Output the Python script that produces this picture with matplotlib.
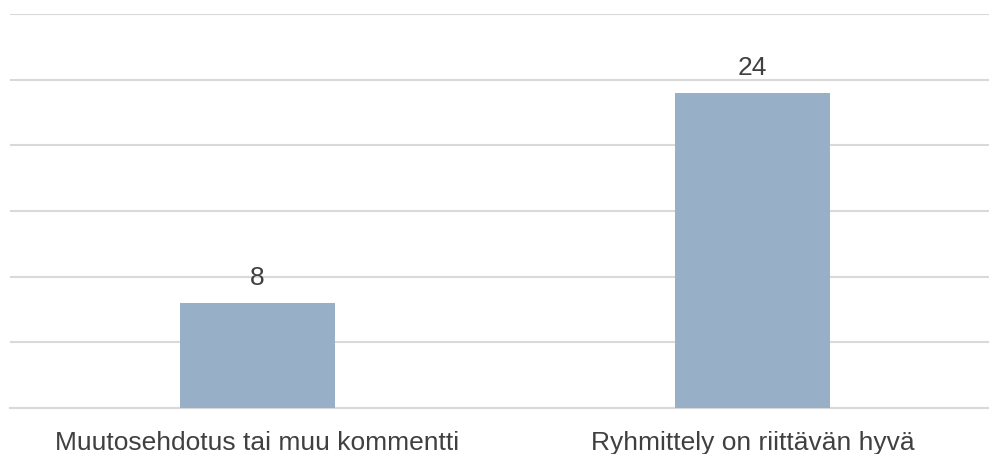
import matplotlib.pyplot as plt

categories = ["Muutosehdotus tai muu kommentti", "Ryhmittely on riittävän hyvä"]
counts = [8, 24]

plt.rcParams['font.family'] = ['Liberation Sans', 'DejaVu Sans']

fig = plt.figure(figsize=(9.89, 4.54), dpi=100)
ax = fig.add_axes([10 / 989, 46 / 454, 979 / 989, 394 / 454])

x = range(len(categories))
bars = ax.bar(x, counts, width=0.313, color='#97b0c7', zorder=3)

for rect, v in zip(bars, counts):
    ax.text(rect.get_x() + rect.get_width() / 2, v + 1.37, str(v),
            ha='center', va='baseline', fontsize=19, color='#404040')

ax.set_xlim(-0.5, 1.478)
ax.set_ylim(0, 30)
ax.set_yticks(range(0, 31, 5))
ax.yaxis.grid(True, color='#d9d9d9', linewidth=1.5, zorder=0)
ax.tick_params(axis='y', left=False, labelleft=False)
ax.tick_params(axis='x', bottom=False, pad=13)
ax.set_xticks(list(x))
ax.set_xticklabels(categories, fontsize=19, color='#404040')
for s in ['top', 'right', 'left']:
    ax.spines[s].set_visible(False)
ax.spines['bottom'].set_color('#d9d9d9')
ax.spines['bottom'].set_linewidth(1.5)

fig.savefig('out.png', dpi=100)
